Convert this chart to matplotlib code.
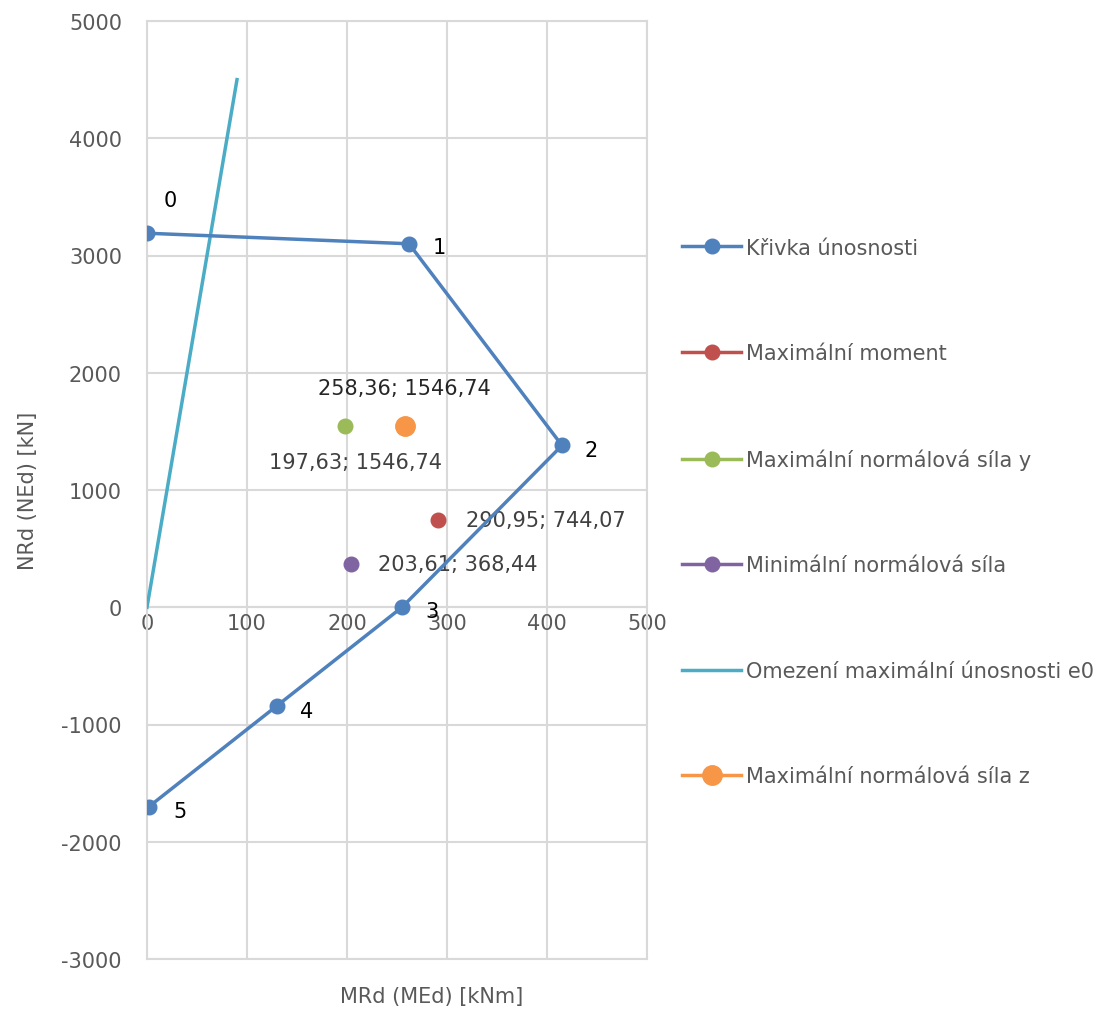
import numpy as np
import matplotlib
matplotlib.use('Agg')
import matplotlib.pyplot as plt

# interaction curve points (MRd, NRd) and their labels
curve_m = [0, 262, 415, 255, 130, 2]
curve_n = [3190, 3100, 1380, 0, -840, -1700]
curve_labels = ['0', '1', '2', '3', '4', '5']

# limit line e0
e0_m = [0, 90]
e0_n = [0, 4500]

# design points
max_moment = (290.95, 744.07)
max_n_y = (197.63, 1546.74)
min_n = (203.61, 368.44)
max_n_z = (258.36, 1546.74)

x_ticks = [0, 100, 200, 300, 400, 500]
y_ticks = [-3000, -2000, -1000, 0, 1000, 2000, 3000, 4000, 5000]

BLUE = '#4F81BD'
RED = '#C0504D'
GREEN = '#9BBB59'
PURPLE = '#8064A2'
CYAN = '#4BACC6'
ORANGE = '#F79646'
GRID = '#D9D9D9'
TXT = '#595959'
FS = 15

plt.rcParams['font.family'] = ['DejaVu Sans']
plt.rcParams['axes.unicode_minus'] = False

fig = plt.figure(figsize=(11, 10.12), dpi=100)
ax = fig.add_axes([147/1100, 1-960/1012, 500/1100, 938/1012])

ax.plot(curve_m, curve_n, color=BLUE, lw=2.5, marker='o', ms=10.5, label='Křivka únosnosti', zorder=4)
ax.plot(*max_moment, color=RED, lw=2.5, marker='o', ms=10.5, label='Maximální moment', zorder=5)
ax.plot(*max_n_y, color=GREEN, lw=2.5, marker='o', ms=10.5, label='Maximální normálová síla y', zorder=5)
ax.plot(*min_n, color=PURPLE, lw=2.5, marker='o', ms=10.5, label='Minimální normálová síla', zorder=5)
ax.plot(e0_m, e0_n, color=CYAN, lw=2.5, label='Omezení maximální únosnosti e0', zorder=3)
ax.plot(*max_n_z, color=ORANGE, lw=2.5, marker='o', ms=14, label='Maximální normálová síla z', zorder=5)

# point numbers
offs = [(23, 33), (30, -3), (29, -5), (30, -4), (30, -5), (31, -4)]
for m, n, lab, o in zip(curve_m, curve_n, curve_labels, offs):
    ax.annotate(lab, (m, n), xytext=o, textcoords='offset pixels',
                ha='center', va='center', fontsize=FS, color='black')

def fmt(p):
    return '{}; {}'.format(('%.2f' % p[0]).replace('.', ','), ('%.2f' % p[1]).replace('.', ','))

ax.annotate(fmt(max_n_z), max_n_z, xytext=(-1, 38), textcoords='offset pixels',
            ha='center', va='center', fontsize=FS, color='#262626')
ax.annotate(fmt(max_n_y), max_n_y, xytext=(11, -36), textcoords='offset pixels',
            ha='center', va='center', fontsize=FS, color='#404040')
ax.annotate(fmt(max_moment), max_moment, xytext=(28, 0), textcoords='offset pixels',
            ha='left', va='center', fontsize=FS, color='#404040')
ax.annotate(fmt(min_n), min_n, xytext=(27, 0), textcoords='offset pixels',
            ha='left', va='center', fontsize=FS, color='#404040')

ax.set_xlim(0, 500)
ax.set_ylim(-3000, 5000)
ax.set_xticks(x_ticks)
ax.set_yticks(y_ticks)
ax.grid(True, color=GRID, lw=1.5, zorder=0)
ax.set_axisbelow(True)
for s in ['left', 'right', 'top']:
    ax.spines[s].set_color(GRID)
    ax.spines[s].set_linewidth(1.5)
ax.spines['bottom'].set_position(('data', 0))
ax.spines['bottom'].set_color(GRID)
ax.spines['bottom'].set_linewidth(1.5)
ax.axhline(-3000, color=GRID, lw=1.5, clip_on=False, zorder=1)
ax.tick_params(axis='both', length=0, labelsize=FS, labelcolor=TXT)
ax.tick_params(axis='y', pad=18)
ax.tick_params(axis='x', pad=4)

fig.text(28/1100, 1-491/1012, 'NRd (NEd) [kN]', rotation=90, ha='center', va='center',
         fontsize=FS, color=TXT)
fig.text(432/1100, 1-997/1012, 'MRd (MEd) [kNm]', ha='center', va='center',
         fontsize=FS, color=TXT)

leg = ax.legend(loc='center left', bbox_to_anchor=(682/1100, 1-513/1012),
                bbox_transform=fig.transFigure, frameon=False, fontsize=FS,
                labelspacing=4.1, handlelength=2.85, handletextpad=0.2,
                borderpad=0, borderaxespad=0)
for t in leg.get_texts():
    t.set_color(TXT)

fig.savefig('out.png', dpi=100)
